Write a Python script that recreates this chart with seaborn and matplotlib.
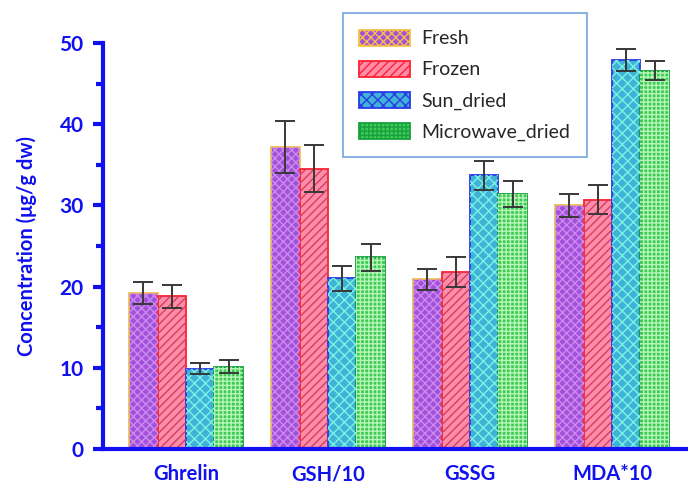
import matplotlib
matplotlib.use("Agg")
import matplotlib.pyplot as plt
import seaborn as sns
import pandas as pd

# categories and treatments
groups = ["Ghrelin", "GSH/10", "GSSG", "MDA*10"]
methods = ["Fresh", "Frozen", "Sun_dried", "Microwave_dried"]

# mean values per method (one value per group)
fresh = [19.2, 37.2, 20.9, 30.0]
frozen = [18.8, 34.5, 21.8, 30.7]
sun_dried = [9.9, 21.0, 33.7, 47.9]
microwave_dried = [10.1, 23.6, 31.4, 46.6]

# error bar half-widths
fresh_err = [1.4, 3.2, 1.3, 1.45]
frozen_err = [1.4, 2.9, 1.85, 1.75]
sun_err = [0.7, 1.55, 1.75, 1.4]
micro_err = [0.8, 1.7, 1.65, 1.2]

values = [fresh, frozen, sun_dried, microwave_dried]
errors = [fresh_err, frozen_err, sun_err, micro_err]

df = pd.DataFrame({
    "group": groups * 4,
    "method": [m for m in methods for _ in groups],
    "value": sum(values, []),
})

# styling per method
face = ["#a450d8", "#ff8ca8", "#3fb2d8", "#3ecb55"]
edge = ["#f5c04a", "#ff2030", "#2a3ae8", "#18a040"]
hatch_col = ["#c98cf0", "#d04060", "#7cf2e2", "#b8f5b8"]
hatches = ["xxxx", "////", "xxx", "++++"]

blue = "#1010f0"

sns.set_style("white")
plt.rcParams["font.family"] = ["Lato", "DejaVu Sans"]
plt.rcParams["hatch.linewidth"] = 1.0

fig = plt.figure(figsize=(6.88, 4.84), dpi=100)
ax = fig.add_axes([0.1497, 0.0723, 0.8503, 0.839])

sns.barplot(data=df, x="group", y="value", hue="method", order=groups,
            hue_order=methods, width=0.80, errorbar=None, ax=ax,
            palette=face, legend=False)

bar_containers = list(ax.containers)
handles = []
for i, cont in enumerate(bar_containers):
    for j, bar in enumerate(cont):
        bar.set_facecolor(face[i])
        bar.set_edgecolor(edge[i])
        bar.set_linewidth(1.3)
        # hatch overlay in its own colour
        ov = plt.Rectangle(bar.get_xy(), bar.get_width(), bar.get_height(),
                           facecolor="none", edgecolor=hatch_col[i],
                           hatch=hatches[i], linewidth=0, zorder=bar.get_zorder() + 0.1)
        ax.add_patch(ov)
        ax.errorbar(bar.get_x() + bar.get_width() / 2, bar.get_height(),
                    yerr=errors[i][j], color="#383838", capsize=7.2,
                    elinewidth=1.4, capthick=1.4, zorder=5)
    h = plt.Rectangle((0, 0), 1, 1, facecolor=face[i], edgecolor=edge[i],
                      hatch=hatches[i], linewidth=1.3)
    handles.append(h)

ax.set_xlim(-0.585, 3.535)
ax.set_ylim(0, 50)
ax.set_yticks([0, 10, 20, 30, 40, 50])
ax.set_yticks([5, 15, 25, 35, 45], minor=True)

for s in ["top", "right"]:
    ax.spines[s].set_visible(False)
for s in ["left", "bottom"]:
    ax.spines[s].set_color(blue)
    ax.spines[s].set_linewidth(3)

ax.tick_params(axis="y", which="major", direction="out", length=7, width=3,
               color=blue, labelcolor=blue, labelsize=15, left=True, pad=7)
ax.tick_params(axis="y", which="minor", direction="out", length=5, width=3,
               color=blue, left=True)
ax.tick_params(axis="x", length=0, labelcolor=blue, labelsize=14.5, pad=11)
for lab in ax.get_xticklabels() + ax.get_yticklabels():
    lab.set_fontweight("bold")

ax.set_xlabel("")
ax.set_ylabel("Concentration (μg/g dw)", color=blue, fontsize=14.5,
              fontweight="bold", labelpad=16)

leg = fig.legend(handles, methods, loc="upper left",
                 bbox_to_anchor=(0.4985, 0.973), borderaxespad=0,
                 frameon=True, fancybox=False, fontsize=14,
                 handlelength=2.6, handleheight=0.9, borderpad=0.85,
                 labelspacing=0.68, handletextpad=0.57)
leg.get_frame().set_edgecolor("#4f8fd8")
leg.get_frame().set_linewidth(1.2)

fig.savefig("out.png", dpi=100)
